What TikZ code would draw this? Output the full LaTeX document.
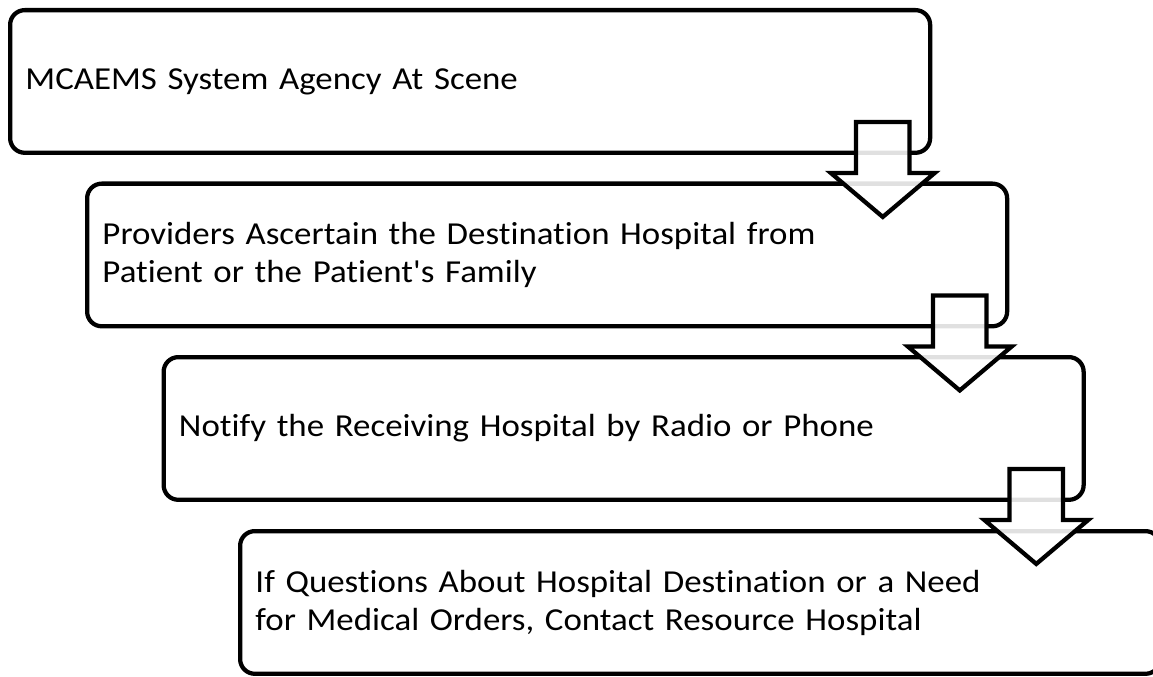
\documentclass[tikz,border=0pt]{standalone}
\usepackage{fontspec}
\setmainfont{Carlito}[Ligatures={TeXOff,NoCommon}, FakeStretch=1.09]

\tikzset{
  stepbox/.style={draw, line width=3.2pt, rounded corners=11pt, anchor=north west,
                  minimum width=690pt, minimum height=107pt, text width=667pt,
                  inner xsep=11.5pt, align=left,
                  font=\fontsize{24pt}{28.5pt}\selectfont},
  downarrow/.style={draw, line width=3.2pt, fill=white, fill opacity=0.88}
}

\begin{document}
\begin{tikzpicture}[x=0.75pt, y=-0.75pt]
  \clip (0,0) rectangle (1153,677);

  \node (agency)   [stepbox] at (8,8)       {MCAEMS System Agency At Scene};
  \node (provider) [stepbox] at (85,181.5)  {Providers Ascertain the Destination Hospital from\\
                                              Patient or the Patient's Family};
  \node (notify)   [stepbox] at (161.5,355) {Notify the Receiving Hospital by Radio or Phone};
  \node (resource) [stepbox] at (238,529)   {If Questions About Hospital Destination or a Need\\
                                              for Medical Orders, Contact Resource Hospital};

  \path (agency.south east)   ++(-49.5,62) coordinate (tipA);
  \path (provider.south east) ++(-49.5,62) coordinate (tipB);
  \path (notify.south east)   ++(-49.5,62) coordinate (tipC);

  \draw [downarrow] (tipA) -- ++(52,-44) -- ++(-25.3,0) -- ++(0,-51)
        -- ++(-53.4,0) -- ++(0,51) -- ++(-25.3,0) -- cycle;
  \draw [downarrow] (tipB) -- ++(52,-44) -- ++(-25.3,0) -- ++(0,-51)
        -- ++(-53.4,0) -- ++(0,51) -- ++(-25.3,0) -- cycle;
  \draw [downarrow] (tipC) -- ++(52,-44) -- ++(-25.3,0) -- ++(0,-51)
        -- ++(-53.4,0) -- ++(0,51) -- ++(-25.3,0) -- cycle;
\end{tikzpicture}
\end{document}
